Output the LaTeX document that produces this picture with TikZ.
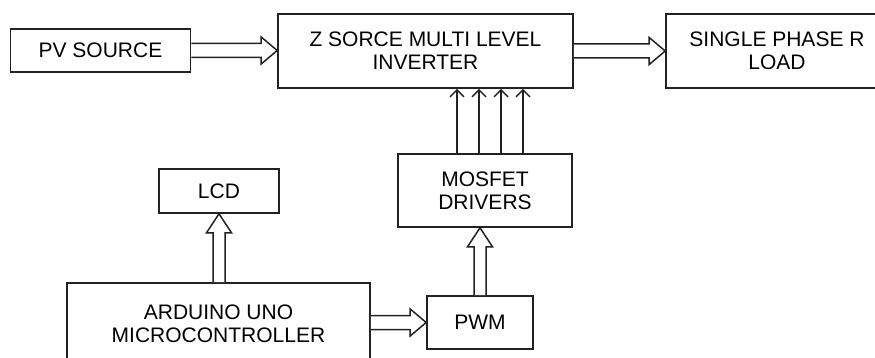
\documentclass[tikz,border=0pt]{standalone}
\usepackage{fontspec}
\setmainfont{Liberation Sans}
\usetikzlibrary{arrows.meta,calc}
\definecolor{ink}{HTML}{222222}
\tikzset{
  box/.style={draw=ink, line width=1.6pt, fill=white, align=center, inner sep=0pt,
    font=\fontsize{21}{23}\selectfont, text=black},
  blockarrow/.style={draw=ink, line width=1.5pt, fill=white, line join=miter},
  thinarrow/.style={draw=ink, line width=1.4pt, -{Straight Barb[length=7pt,width=14pt,line width=1.4pt]}}
}
\newcommand\hollowright[2]{%
  \draw[blockarrow] let \p1=(#1), \p2=(#2) in
    (\x1,\y1+7) -- (\x2-16,\y1+7) -- (\x2-16,\y1+13.5) -- (\x2,\y1)
    -- (\x2-16,\y1-13.5) -- (\x2-16,\y1-7) -- (\x1,\y1-7);}
\newcommand\hollowup[2]{%
  \draw[blockarrow] let \p1=(#1), \p2=(#2) in
    (\x1-6,\y1) -- (\x1-6,\y2-19) -- (\x1-12.5,\y2-19) -- (\x1,\y2)
    -- (\x1+12.5,\y2-19) -- (\x1+6,\y2-19) -- (\x1+6,\y1);}
\begin{document}
\begin{tikzpicture}[x=1pt,y=-1pt]
\useasboundingbox (0,0) rectangle (875,358);
\node[box, minimum width=180pt, minimum height=43pt] (pv) at (100.5,50.5) {PV SOURCE};
\node[box, minimum width=295pt, minimum height=74pt] (inv) at (425.5,51) {Z SORCE MULTI LEVEL\\INVERTER};
\node[box, minimum width=222pt, minimum height=74pt] (load) at (777,51) {SINGLE PHASE R\\LOAD};
\node[box, minimum width=174pt, minimum height=73pt] (mos) at (485,190.5) {MOSFET\\DRIVERS};
\node[box, minimum width=120pt, minimum height=44pt] (lcd) at (219,191) {LCD};
\node[box, minimum width=303pt, minimum height=81pt] (ard) at (218.5,323.5) {ARDUINO UNO\\MICROCONTROLLER};
\node[box, minimum width=106pt, minimum height=53pt] (pwm) at (480,322.5) {PWM};

\hollowright{pv.east}{pv.east -| inv.west}
\hollowright{inv.east}{inv.east -| load.west}
\hollowright{pwm.west -| ard.east}{pwm.west}
\hollowup{lcd.south |- ard.north}{lcd.south}
\hollowup{pwm.north}{pwm.north |- mos.south}

\foreach \dx in {-28,-6,16,38}{
  \draw[thinarrow] ([xshift=\dx pt]mos.north) -- ([xshift=\dx pt]mos.north |- inv.south);
}
\end{tikzpicture}
\end{document}
